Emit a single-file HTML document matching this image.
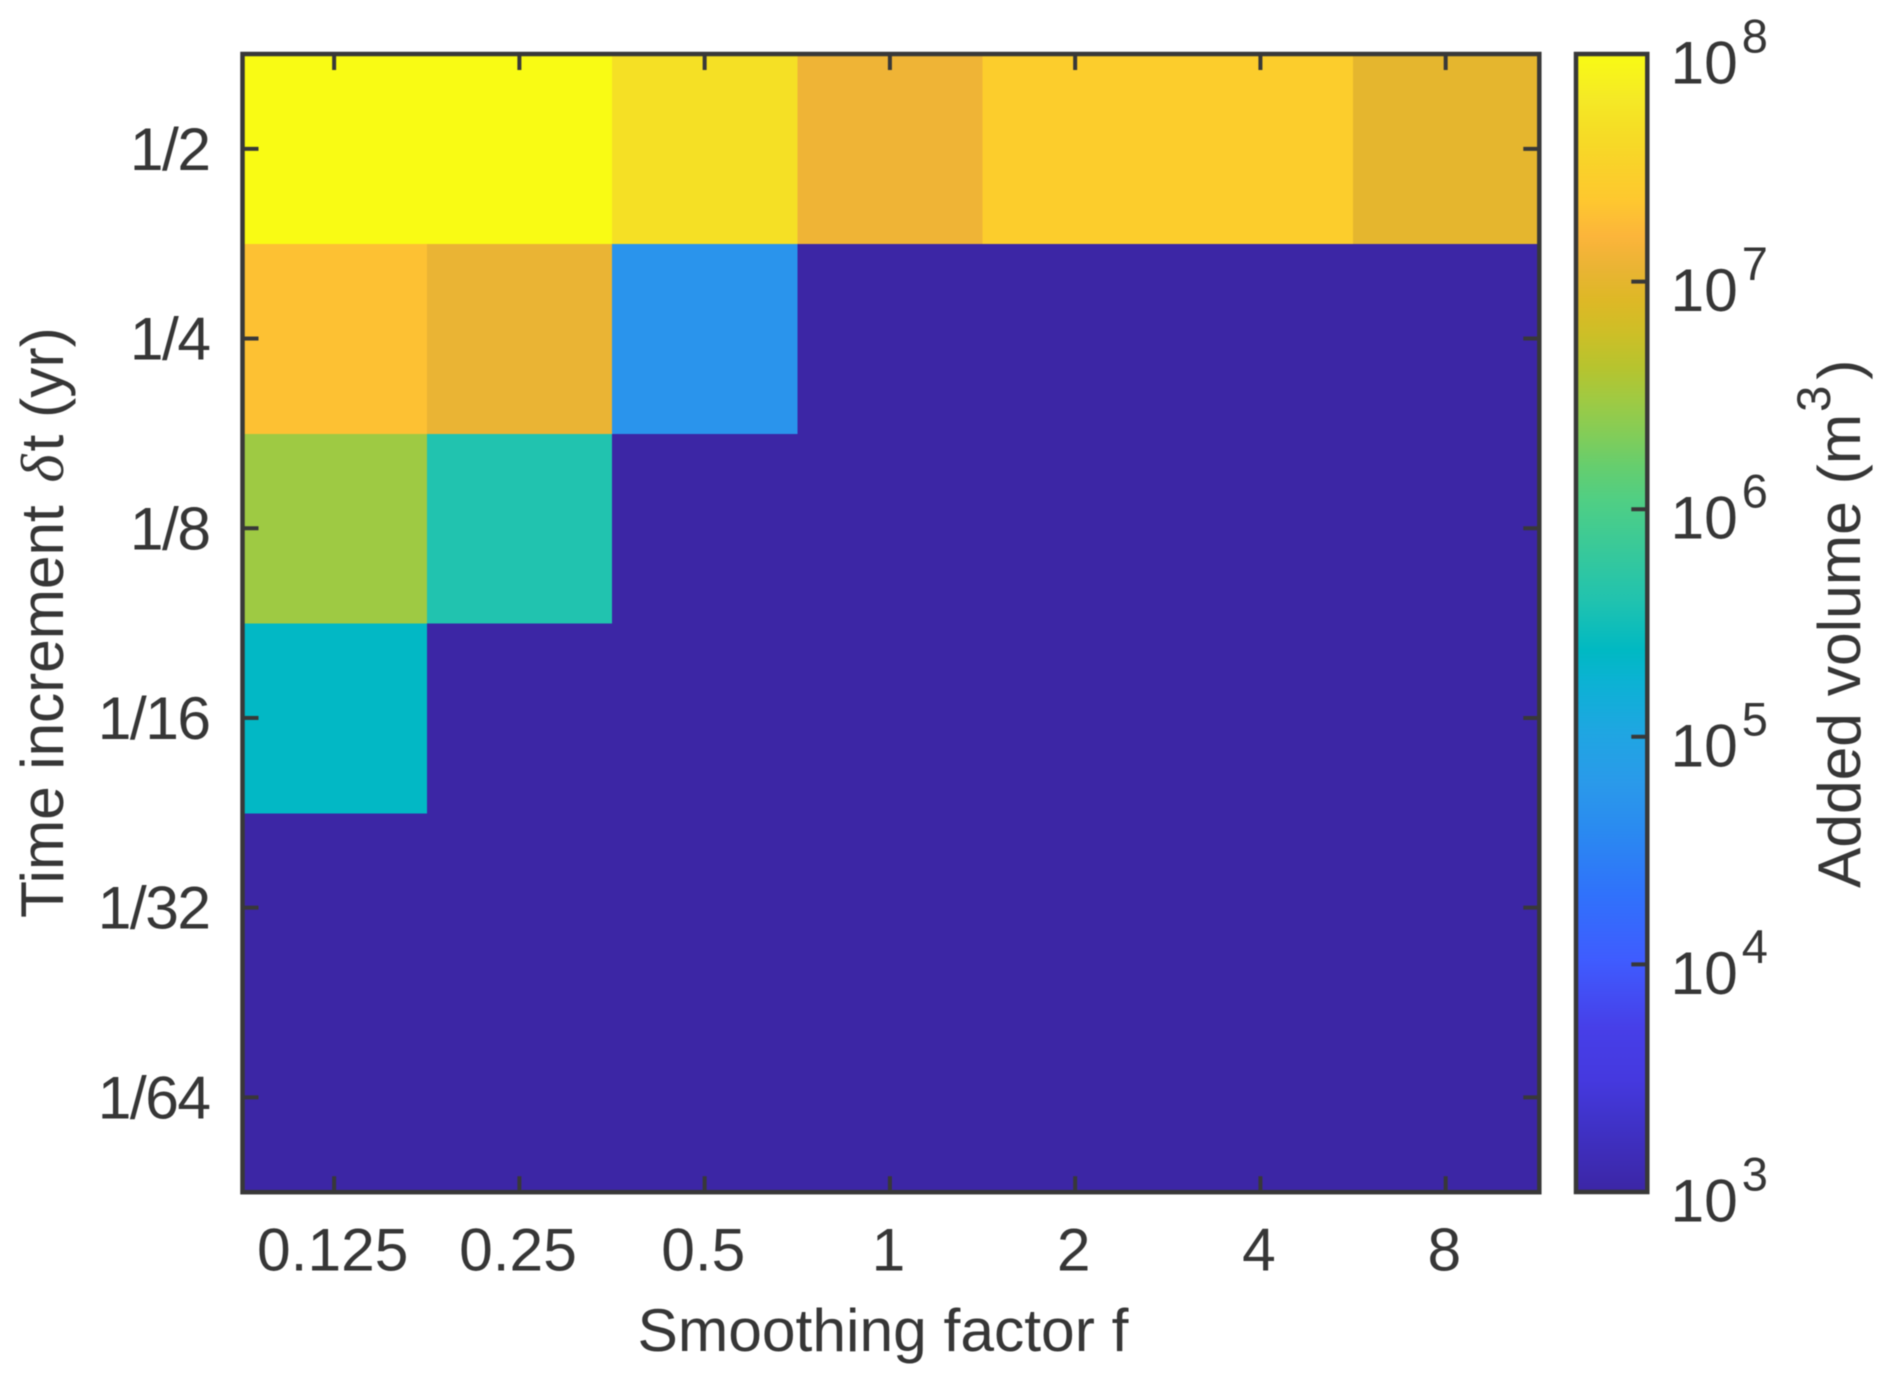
<!DOCTYPE html>
<html lang="en">
<head>
<meta charset="utf-8">
<title>Added volume heatmap</title>
<style>
html,body{margin:0;padding:0;background:#fff;}
svg{display:block;filter:blur(0.45px);}
text{font-family:"Liberation Sans",Arial,sans-serif;fill:#363636;font-size:60.5px;}
</style>
</head>
<body>
<svg id="chart" xmlns="http://www.w3.org/2000/svg" width="1892" height="1383" viewBox="0 0 1892 1383">
  <defs>
    <linearGradient id="cbar-gradient" x1="0" y1="1" x2="0" y2="0"></linearGradient>
  </defs>
  <rect x="0" y="0" width="1892" height="1383" fill="#ffffff"/>
  <g id="cells"></g>
  <rect id="cbar" fill="url(#cbar-gradient)"/>
  <g id="ticks"></g>
  <rect id="frame" fill="none" stroke="#383838" stroke-width="4.5"/>
  <rect id="cbar-frame" fill="none" stroke="#383838" stroke-width="4.5"/>
  <g id="labels"></g>
  <text x="883" y="1351" text-anchor="middle">Smoothing factor f</text>
  <text transform="translate(63,918) rotate(-90)"><tspan letter-spacing="-0.15">Time increment</tspan> <tspan dx="6" font-family="'Liberation Serif',serif" font-style="italic">δ</tspan><tspan dx="3">t (yr)</tspan></text>
  <text transform="translate(1860,888) rotate(-90)">Added volume (m<tspan dx="2" dy="-30" style="font-size:47px">3</tspan><tspan dx="6" dy="30">)</tspan></text>
</svg>
<script>
// Categories and tick labels
const fLabels = ['0.125', '0.25', '0.5', '1', '2', '4', '8'];
const dtLabels = ['1/2', '1/4', '1/8', '1/16', '1/32', '1/64'];
const cbarExponents = [3, 4, 5, 6, 7, 8];

// Added volume in m3, one array per time increment, one value per smoothing factor
const volumeDt2 = [1e8, 1e8, 4.9e7, 1.25e7, 2.75e7, 2.75e7, 1e7];
const volumeDt4 = [2e7, 1.15e7, 5.25e4, 1e3, 1e3, 1e3, 1e3];
const volumeDt8 = [3e6, 4e5, 1e3, 1e3, 1e3, 1e3, 1e3];
const volumeDt16 = [2.3e5, 1e3, 1e3, 1e3, 1e3, 1e3, 1e3];
const volumeDt32 = [1e3, 1e3, 1e3, 1e3, 1e3, 1e3, 1e3];
const volumeDt64 = [1e3, 1e3, 1e3, 1e3, 1e3, 1e3, 1e3];
const volumeRows = [volumeDt2, volumeDt4, volumeDt8, volumeDt16, volumeDt32, volumeDt64];

// Colormap, sampled from the colorbar: log10(volume) level and its colour
const cmapLevels = [3, 3.32, 3.49, 3.72, 4.02, 4.31, 4.6, 4.8, 5.02, 5.24, 5.38, 5.6, 5.82, 6.04, 6.19, 6.33, 6.48, 6.62, 6.77, 6.92, 7.06, 7.2, 7.36, 7.5, 7.69, 7.8, 8];
const cmapColors = ['#3c26a5', '#4033ca', '#4539df', '#473fe8', '#3f5cff', '#3072fb', '#2a8bf0', '#2a9aea', '#1fa6e2', '#0cb2d4', '#00b9c3', '#21c3af', '#38c99a', '#50cf84', '#66ce6e', '#83cd58', '#9fca43', '#b6c42f', '#cdbf27', '#deb826', '#eab434', '#fcb53b', '#fec82f', '#fad12a', '#f5e025', '#f5e926', '#f9fb14'];

const NS = 'http://www.w3.org/2000/svg';
const plot = { left: 242.5, right: 1539.3, top: 54, bottom: 1192.2 };
const cbarBox = { left: 1576, right: 1647.3, top: 54, bottom: 1192 };
const logMin = 3, logMax = 8;
const colW = (plot.right - plot.left) / fLabels.length;
const rowH = (plot.bottom - plot.top) / dtLabels.length;

function xBand(i) { return plot.left - 1 + i * colW; }
function yBand(j) { return plot.top + 0.5 + j * rowH; }
function xCenter(i) { return xBand(i) + colW / 2; }
function yCenter(j) { return yBand(j) + rowH / 2 - 0.5; }
function cbarY(exp) { return cbarBox.bottom - (exp - logMin) / (logMax - logMin) * (cbarBox.bottom - cbarBox.top); }

function hexToRgb(h) { return [1, 3, 5].map(function (k) { return parseInt(h.substr(k, 2), 16); }); }
function colorFor(volume) {
  const v = Math.min(logMax, Math.max(logMin, Math.log10(volume)));
  for (let k = 1; k < cmapLevels.length; k++) {
    if (v <= cmapLevels[k]) {
      const t = (v - cmapLevels[k - 1]) / (cmapLevels[k] - cmapLevels[k - 1]);
      const a = hexToRgb(cmapColors[k - 1]), b = hexToRgb(cmapColors[k]);
      return 'rgb(' + a.map(function (c, n) { return Math.round(c + (b[n] - c) * t); }).join(',') + ')';
    }
  }
  return cmapColors[cmapColors.length - 1];
}

function make(tag, attrs, parent) {
  const el = document.createElementNS(NS, tag);
  for (const key in attrs) el.setAttribute(key, attrs[key]);
  parent.appendChild(el);
  return el;
}

// Heatmap cells
const cellsG = document.getElementById('cells');
volumeRows.forEach(function (row, j) {
  row.forEach(function (volume, i) {
    const cell = make('rect', { x: xBand(i), y: yBand(j), width: colW + 0.4, height: Math.min(rowH + 0.4, plot.bottom - yBand(j)), fill: colorFor(volume), 'shape-rendering': 'crispEdges' }, cellsG);
    
    
  });
});

// Colorbar ramp
const grad = document.getElementById('cbar-gradient');
cmapLevels.forEach(function (lv, k) {
  const stop = make('stop', { offset: (lv - logMin) / (logMax - logMin), 'stop-color': cmapColors[k] }, grad);
  
  
});
const cbarRect = document.getElementById('cbar');
cbarRect.setAttribute('x', cbarBox.left);
cbarRect.setAttribute('y', cbarBox.top);
cbarRect.setAttribute('width', cbarBox.right - cbarBox.left);
cbarRect.setAttribute('height', cbarBox.bottom - cbarBox.top);

// Frames
const frame = document.getElementById('frame');
frame.setAttribute('x', plot.left);
frame.setAttribute('y', plot.top);
frame.setAttribute('width', plot.right - plot.left);
frame.setAttribute('height', plot.bottom - plot.top);
const cbarFrame = document.getElementById('cbar-frame');
cbarFrame.setAttribute('x', cbarBox.left);
cbarFrame.setAttribute('y', cbarBox.top);
cbarFrame.setAttribute('width', cbarBox.right - cbarBox.left);
cbarFrame.setAttribute('height', cbarBox.bottom - cbarBox.top);

// Ticks and tick labels
const ticksG = document.getElementById('ticks');
const labelsG = document.getElementById('labels');
const tickLen = 16;
function addTick(x1, y1, x2, y2, name) {
  const t = make('line', { x1: x1, y1: y1, x2: x2, y2: y2, stroke: '#383838', 'stroke-width': 4 }, ticksG);
  
  
}

fLabels.forEach(function (label, i) {
  const x = xCenter(i);
  addTick(x, plot.bottom, x, plot.bottom - tickLen, 'x-tick-bottom');
  addTick(x, plot.top, x, plot.top + tickLen, 'x-tick-top');
  const t = make('text', { x: x - 1.4, y: 1270.5, 'text-anchor': 'middle' }, labelsG);
  t.textContent = label;
  
  
});

dtLabels.forEach(function (label, j) {
  const y = yCenter(j);
  addTick(plot.left, y, plot.left + tickLen, y, 'y-tick-left');
  addTick(plot.right, y, plot.right - tickLen, y, 'y-tick-right');
  const t = make('text', { x: 209.5, y: y + 21, 'text-anchor': 'end', 'letter-spacing': -1.5 }, labelsG);
  t.textContent = label;
  
  
});

cbarExponents.forEach(function (exp) {
  const y = cbarY(exp);
  addTick(cbarBox.right, y, cbarBox.right - tickLen, y, 'colorbar-tick');
  const t = make('text', { x: 1670.5, y: y + 29.5 }, labelsG);
  t.textContent = '10';
  
  
  const sup = make('tspan', { dx: 4, dy: -31 }, t);
  sup.style.fontSize = '47px';
  sup.textContent = String(exp);
  
  
});
</script>
</body>
</html>
